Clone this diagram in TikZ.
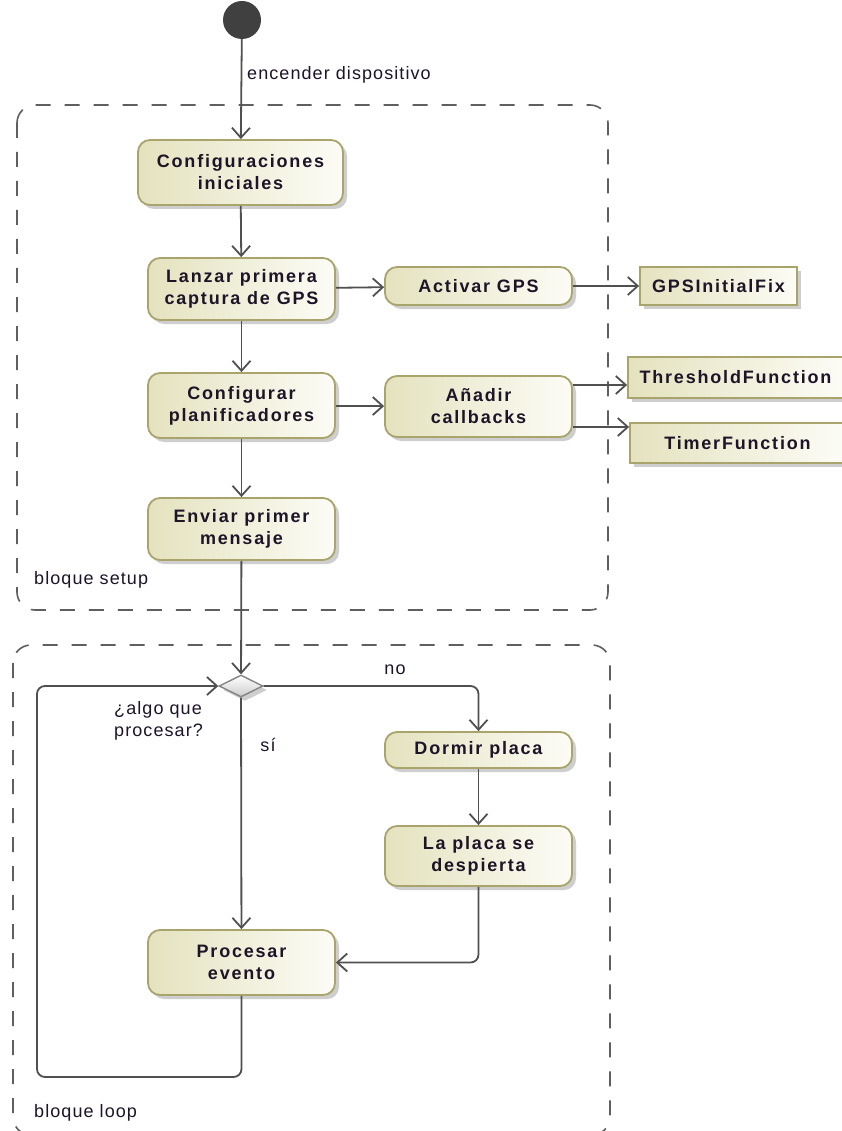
\documentclass[tikz,border=0pt]{standalone}
\usepackage{fontspec}
\setmainfont{Liberation Sans}
\usetikzlibrary{arrows.meta,shapes.geometric,shadows}
\definecolor{edgeolive}{RGB}{168,164,108}
\definecolor{fillbeige}{RGB}{228,226,190}
\definecolor{fillpale}{RGB}{252,252,246}
\definecolor{wire}{RGB}{80,80,80}
\definecolor{framegray}{RGB}{95,95,95}
\definecolor{inkdark}{RGB}{30,20,40}
\newfontfamily\boxfont[LetterSpace=10]{Liberation Sans Bold}
\newfontfamily\labelfont[LetterSpace=6]{Liberation Sans}
\tikzset{
  boxshadow/.style={drop shadow={shadow xshift=4pt,shadow yshift=-4pt,fill=black!35,opacity=0.55}},
  activity/.style={draw=edgeolive,line width=1.8pt,rounded corners=12pt,
    left color=fillbeige,right color=fillpale,boxshadow,
    minimum width=187pt,inner sep=0pt,align=center,text=inkdark,
    font=\boxfont\fontsize{18}{22}\selectfont},
  pinbox/.style={draw=edgeolive,line width=1.8pt,
    left color=fillbeige,right color=fillpale,boxshadow,
    inner sep=0pt,align=center,text=inkdark,
    font=\boxfont\fontsize{18}{22}\selectfont},
  decision/.style={diamond,aspect=2,draw=wire!70,line width=1.4pt,
    minimum width=44pt,minimum height=22pt,inner sep=0pt,
    top color=white,bottom color=black!20,boxshadow},
  flow/.style={draw=wire,line width=1.8pt,
    -{Straight Barb[length=10pt,width=18pt,line width=1.8pt]}},
  frame/.style={draw=framegray,line width=1.6pt,dash pattern=on 15pt off 14pt,rounded corners=18pt},
  lbl/.style={text=inkdark,font=\labelfont\fontsize{18}{22}\selectfont,inner sep=0pt},
}
\begin{document}
\begin{tikzpicture}[x=1pt,y=-1pt]
\useasboundingbox (0,0) rectangle (841,1131);
\fill[white] (0,0) rectangle (841,1131);

% block frames
\draw[frame] (17,105) rectangle (608,610);
\draw[frame] (13,645) rectangle (610,1135);
\node[lbl,anchor=west] (setuplbl) at (34,580) {bloque setup};
\node[lbl,anchor=west] (looplbl) at (34,1113) {bloque loop};

% initial node
\node[circle,fill=black!75,minimum size=38pt,inner sep=0pt] (start) at (242,20) {};
\node[lbl,anchor=west] (startlbl) at (247,75) {encender dispositivo};

% setup activities
\node[activity,minimum width=205pt,minimum height=65pt] (cfg) at (240.5,172.5) {Configuraciones\\iniciales};
\node[activity,minimum height=62pt] (gps) at (241.5,289) {Lanzar primera\\captura de GPS};
\node[activity,minimum height=38pt] (act) at (478.5,286) {Activar GPS};
\node[pinbox,minimum width=157pt,minimum height=38pt] (fix) at (718.5,286) {GPSInitialFix};
\node[activity,minimum height=65pt] (plan) at (241.5,405.5) {Configurar\\planificadores};
\node[activity,minimum height=61pt] (cb) at (478.5,406.5) {Añadir\\callbacks};
\node[pinbox,minimum width=215pt,minimum height=41pt] (thr) at (735.5,377.5) {ThresholdFunction};
\node[pinbox,minimum width=215pt,minimum height=40pt] (tmr) at (737.5,443) {TimerFunction};
\node[activity,minimum height=62pt] (msg) at (241.5,529) {Enviar primer\\mensaje};

% loop activities
\node[decision] (dec) at (241,686) {};
\node[activity,minimum height=36pt] (sleep) at (478.5,750) {Dormir placa};
\node[activity,minimum height=60pt] (wake) at (478.5,856) {La placa se\\despierta};
\node[activity,minimum height=65pt] (proc) at (241.5,962.5) {Procesar\\evento};

\node[lbl,anchor=north west,align=left] (q) at (114,701) {¿algo que\\procesar?};
\node[lbl] (nolbl) at (395,670) {no};
\node[lbl] (silbl) at (268,745) {sí};

% flows
\draw[flow] (start) -- (cfg);
\draw[flow] (cfg) -- (gps);
\draw[flow] (gps) -- (act);
\draw[flow] (act) -- (fix);
\draw[flow] (gps) -- (plan);
\draw[flow] (plan) -- (cb);
\coordinate (thrrow) at (0,385);
\coordinate (tmrrow) at (0,427);
\draw[flow] (cb.east |- thrrow) -- (thr.west |- thrrow);
\draw[flow] (cb.east |- tmrrow) -- (tmr.west |- tmrrow);
\draw[flow] (plan) -- (msg);
\draw[flow] (msg) -- (dec);
\draw[flow] (dec) -- (proc);
\draw[flow,rounded corners=8pt] (dec.east) -| (sleep.north);
\draw[flow] (sleep) -- (wake);
\draw[flow,rounded corners=8pt] (wake.south) |- (proc.east);
\coordinate (loopbot) at (241.5,1077);
\coordinate (loopleft) at (37,1077);
\draw[flow,rounded corners=8pt] (proc.south) -- (loopbot) -- (loopleft) |- (dec.west);
\end{tikzpicture}
\end{document}
